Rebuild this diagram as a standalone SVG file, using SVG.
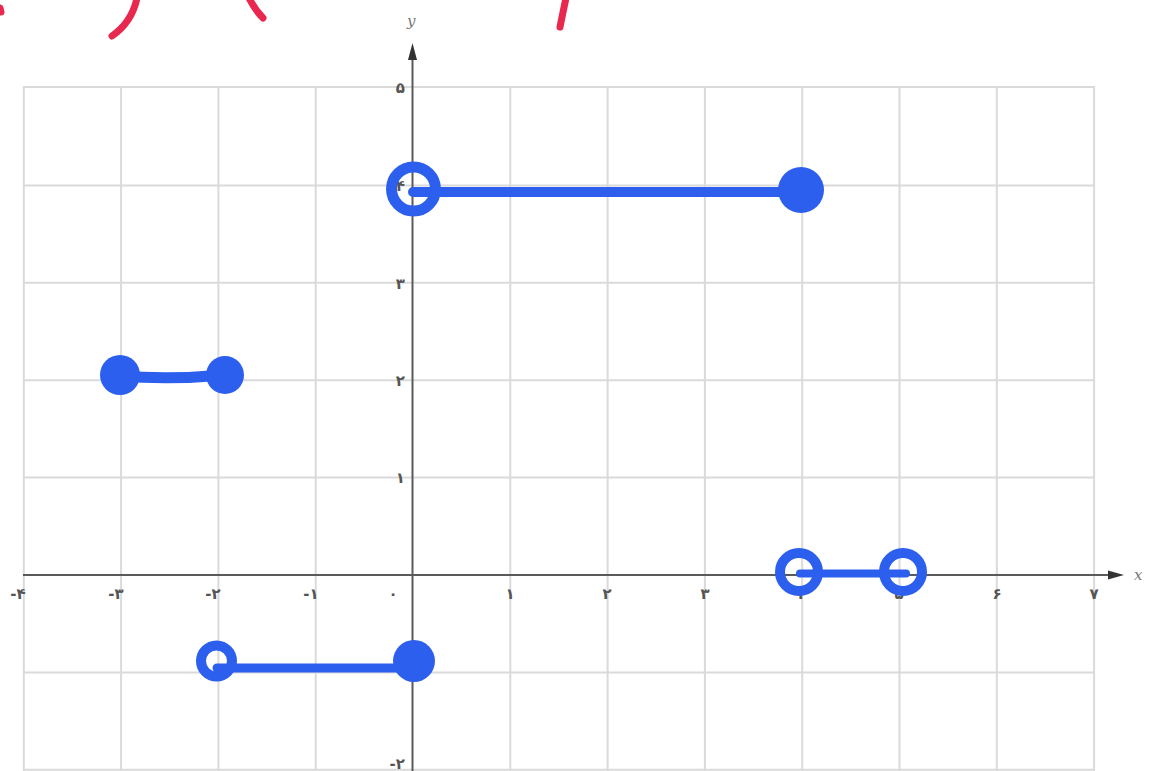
<svg xmlns="http://www.w3.org/2000/svg" width="1156" height="771" viewBox="0 0 1156 771">
  <style>
    .grid line { stroke: #dadada; stroke-width: 2; }
    .axis { stroke: #5a5a5a; stroke-width: 2; }
    .tick { font-family: "DejaVu Sans", "Noto Sans", sans-serif; font-size: 15px; font-weight: bold; fill: #555; }
    .lbl { font-family: "DejaVu Serif", "Liberation Serif", serif; font-style: italic; font-size: 15px; fill: #777; }
    .seg { stroke: #2c5fee; stroke-linecap: round; fill: none; }
    .open { fill: none; stroke: #2c5fee; }
    .dot { fill: #2c5fee; }
    .ink { stroke: #e8284f; stroke-linecap: round; fill: none; stroke-width: 7; }
  </style>
  <rect width="1156" height="771" fill="#ffffff"/>

  <g id="handwriting">
    <path class="ink" d="M 137 -2 Q 132 22 112 36"/>
    <path class="ink" d="M 249 -2 Q 255 10 263 18"/>
    <path class="ink" d="M 566 -2 Q 563 12 560 27"/>
    <path class="ink" d="M 0 8 L 1 12" stroke-width="4"/>
  </g>

  <g id="grid" class="grid">
    <line x1="23.8" y1="86" x2="23.8" y2="771"/>
    <line x1="121.1" y1="86" x2="121.1" y2="771"/>
    <line x1="218.4" y1="86" x2="218.4" y2="771"/>
    <line x1="315.7" y1="86" x2="315.7" y2="771"/>
    <line x1="510.3" y1="86" x2="510.3" y2="771"/>
    <line x1="607.6" y1="86" x2="607.6" y2="771"/>
    <line x1="704.9" y1="86" x2="704.9" y2="771"/>
    <line x1="802.2" y1="86" x2="802.2" y2="771"/>
    <line x1="899.5" y1="86" x2="899.5" y2="771"/>
    <line x1="996.8" y1="86" x2="996.8" y2="771"/>
    <line x1="1094.1" y1="86" x2="1094.1" y2="771"/>
    <line x1="23" y1="87" x2="1095" y2="87"/>
    <line x1="23" y1="185.4" x2="1095" y2="185.4"/>
    <line x1="23" y1="282.8" x2="1095" y2="282.8"/>
    <line x1="23" y1="380.2" x2="1095" y2="380.2"/>
    <line x1="23" y1="477.6" x2="1095" y2="477.6"/>
    <line x1="23" y1="672.4" x2="1095" y2="672.4"/>
    <line x1="23" y1="769.8" x2="1095" y2="769.8"/>
  </g>

  <g id="axes">
    <line class="axis" x1="23" y1="575" x2="1112" y2="575"/>
    <polygon points="1124,575 1108,570.5 1108,579.5" fill="#333"/>
    <text class="lbl" x="1134" y="580">x</text>
    <line class="axis" x1="412.5" y1="58" x2="412.5" y2="771"/>
    <polygon points="412.5,43 408,60 417,60" fill="#333"/>
    <text class="lbl" x="407" y="26">y</text>
  </g>

  <g id="tick-labels" class="tick">
    <text x="18" y="599" text-anchor="middle">-۴</text>
    <text x="116" y="599" text-anchor="middle">-۳</text>
    <text x="213" y="599" text-anchor="middle">-۲</text>
    <text x="311" y="599" text-anchor="middle">-۱</text>
    <text x="393" y="599" text-anchor="middle">۰</text>
    <text x="510" y="599" text-anchor="middle">۱</text>
    <text x="607" y="599" text-anchor="middle">۲</text>
    <text x="705" y="599" text-anchor="middle">۳</text>
    <text x="802" y="599" text-anchor="middle">۴</text>
    <text x="899" y="599" text-anchor="middle">۵</text>
    <text x="997" y="599" text-anchor="middle">۶</text>
    <text x="1094" y="599" text-anchor="middle">۷</text>
    <text x="405" y="93" text-anchor="end">۵</text>
    <text x="405" y="191" text-anchor="end">۴</text>
    <text x="405" y="289" text-anchor="end">۳</text>
    <text x="405" y="386" text-anchor="end">۲</text>
    <text x="405" y="483" text-anchor="end">۱</text>
    <text x="405" y="769" text-anchor="end">-۲</text>
  </g>

  <g id="piece-left">
    <path class="seg" d="M 120 376 Q 170 380 225 375" stroke-width="11"/>
    <circle class="dot" cx="120" cy="375" r="20"/>
    <circle class="dot" cx="225" cy="375" r="19"/>
  </g>

  <g id="piece-top">
    <line class="seg" x1="413" y1="192" x2="800" y2="192" stroke-width="10"/>
    <circle class="open" cx="413.5" cy="189" r="22" stroke-width="11"/>
    <circle class="dot" cx="801" cy="190" r="23"/>
  </g>

  <g id="piece-bottom">
    <line class="seg" x1="217" y1="668" x2="413" y2="668" stroke-width="9"/>
    <circle class="open" cx="216.5" cy="661" r="15.5" stroke-width="10"/>
    <circle class="dot" cx="414" cy="661" r="21"/>
  </g>

  <g id="piece-axis">
    <line class="seg" x1="800" y1="573.5" x2="906" y2="573.5" stroke-width="8"/>
    <circle class="open" cx="799" cy="572" r="19" stroke-width="10"/>
    <circle class="open" cx="903" cy="572" r="19" stroke-width="10"/>
  </g>
</svg>
